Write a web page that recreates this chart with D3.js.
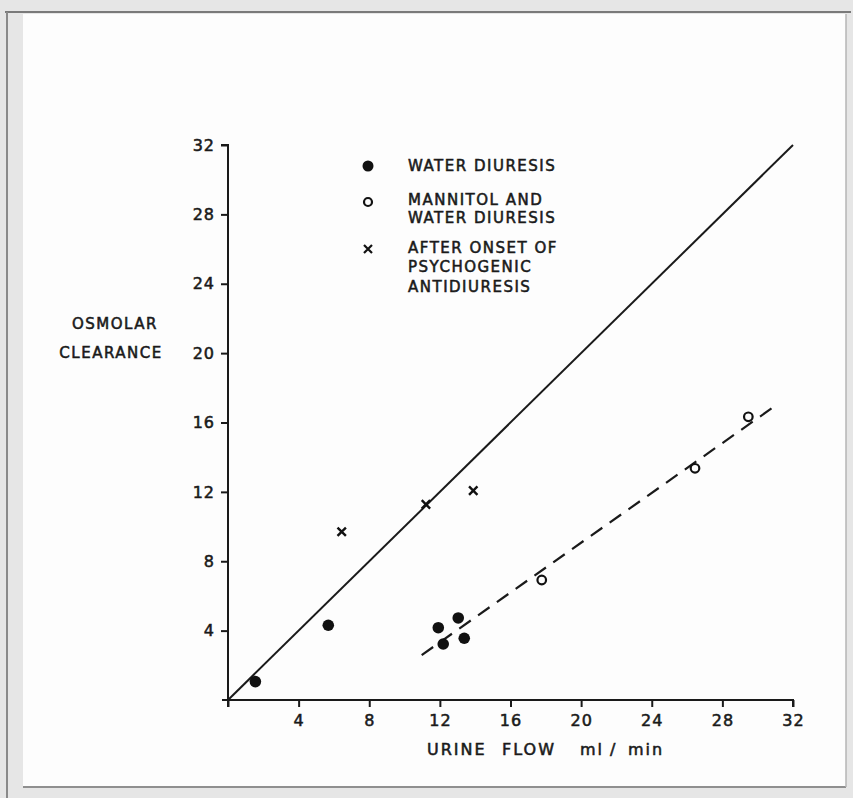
<!DOCTYPE html>
<html>
<head>
<meta charset="utf-8">
<script src="https://cdn.jsdelivr.net/npm/d3@7"></script>
<style>
  html, body { margin: 0; padding: 0; background: #e6e6e6; }
  svg { display: block; }
  text { font-family: "DejaVu Sans", sans-serif; fill: #1a1a1a; stroke: #1a1a1a; stroke-width: 0.55px; }
</style>
</head>
<body>
<script>
// Osmolar clearance vs urine flow (ml/min)
const xTicks = [4, 8, 12, 16, 20, 24, 28, 32];
const yTicks = [4, 8, 12, 16, 20, 24, 28, 32];

// Water diuresis (filled circles)
const waterFlow = [1.55, 5.68, 11.91, 12.19, 13.04, 13.38];
const waterClear = [1.06, 4.31, 4.17, 3.23, 4.73, 3.56];

// Mannitol and water diuresis (open circles)
const mannitolFlow = [17.77, 26.45, 29.47];
const mannitolClear = [6.92, 13.36, 16.33];

// After onset of psychogenic antidiuresis (crosses)
const antiFlow = [6.44, 11.21, 13.89];
const antiClear = [9.70, 11.28, 12.07];

// Line of identity and fitted dashed line endpoints
const identityX = [0, 32];
const identityY = [0, 32];
const fitX = [10.97, 30.88];
const fitY = [2.59, 16.88];

const legendLabels = [
  ["WATER DIURESIS"],
  ["MANNITOL AND", "WATER DIURESIS"],
  ["AFTER ONSET OF", "PSYCHOGENIC", "ANTIDIURESIS"]
];
const xTitleWords = ["URINE", "FLOW", "ml", "/", "min"];

const W = 853, H = 798;
const svg = d3.select("body").append("svg").attr("width", W).attr("height", H);

// paper panel and frame edges
svg.append("rect").attr("x", 0).attr("y", 0).attr("width", W).attr("height", H).attr("fill", "#e6e6e6");
svg.append("rect").attr("x", 23).attr("y", 14).attr("width", 823).attr("height", 773)
  .attr("fill", "#fdfdfd");
svg.append("line").attr("x1", 5).attr("x2", 851).attr("y1", 12).attr("y2", 12)
  .attr("stroke", "#7a7a7a").attr("stroke-width", 2);
svg.append("line").attr("x1", 7).attr("x2", 7).attr("y1", 12).attr("y2", 798)
  .attr("stroke", "#8a8a8a").attr("stroke-width", 2);
svg.append("line").attr("x1", 23).attr("x2", 846).attr("y1", 787).attr("y2", 787)
  .attr("stroke", "#8f8f8f").attr("stroke-width", 2);
svg.append("line").attr("x1", 846).attr("x2", 846).attr("y1", 14).attr("y2", 787)
  .attr("stroke", "#b5b5b5").attr("stroke-width", 1.5);

const x = d3.scaleLinear().domain([0, 32]).range([228, 793]);
const y = d3.scaleLinear().domain([0, 32]).range([700, 145]);

const g = svg.append("g");

// axes
const xAxis = d3.axisBottom(x).tickValues([0].concat(xTicks)).tickSize(7).tickPadding(8)
  .tickFormat(d => d === 0 ? "" : d);
const yAxis = d3.axisLeft(y).tickValues(yTicks).tickSize(7).tickPadding(6);

const gx = g.append("g").attr("transform", `translate(0,${y(0)})`).call(xAxis);
const gy = g.append("g").attr("transform", `translate(${x(0)},0)`).call(yAxis);
[gx, gy].forEach(a => {
  a.select(".domain").attr("stroke", "#1a1a1a").attr("stroke-width", 2);
  a.selectAll(".tick line").attr("stroke", "#1a1a1a").attr("stroke-width", 2);
  a.selectAll(".tick text").attr("font-size", 16).attr("letter-spacing", 1)
    .attr("font-family", "DejaVu Sans").attr("fill", "#1a1a1a");
});
gx.select(".domain").attr("d", `M${x(0) - 6},0H${x(32)}V7`);
gy.select(".domain").attr("d", `M-7,${y(32)}H0V${y(0) + 7}`);

// axis titles
g.append("text").attr("x", 115).attr("y", y(20) - 24)
  .attr("font-size", 15).attr("letter-spacing", 1.5).attr("text-anchor", "middle")
  .text("OSMOLAR");
g.append("text").attr("x", 111).attr("y", y(20) + 5)
  .attr("font-size", 15).attr("letter-spacing", 1.5).attr("text-anchor", "middle")
  .text("CLEARANCE");
const xTitleX = [427, 502, 580, 610, 628];
xTitleWords.forEach((w, i) => {
  g.append("text").attr("x", xTitleX[i]).attr("y", 755).attr("font-size", 16)
    .attr("letter-spacing", 2).text(w);
});

// identity line
g.append("line")
  .attr("x1", x(identityX[0])).attr("y1", y(identityY[0]))
  .attr("x2", x(identityX[1])).attr("y2", y(identityY[1]))
  .attr("stroke", "#1a1a1a").attr("stroke-width", 2);

// dashed regression line
g.append("line")
  .attr("x1", x(fitX[0])).attr("y1", y(fitY[0]))
  .attr("x2", x(fitX[1])).attr("y2", y(fitY[1]))
  .attr("stroke", "#1a1a1a").attr("stroke-width", 2.2).attr("stroke-dasharray", "14,9");

// markers
const water = waterFlow.map((v, i) => [v, waterClear[i]]);
const mannitol = mannitolFlow.map((v, i) => [v, mannitolClear[i]]);
const anti = antiFlow.map((v, i) => [v, antiClear[i]]);

g.selectAll(".water").data(water).join("circle").attr("class", "water")
  .attr("cx", d => x(d[0])).attr("cy", d => y(d[1])).attr("r", 5.8).attr("fill", "#111");

g.selectAll(".mannitol").data(mannitol).join("circle").attr("class", "mannitol")
  .attr("cx", d => x(d[0])).attr("cy", d => y(d[1])).attr("r", 4.3)
  .attr("fill", "none").attr("stroke", "#111").attr("stroke-width", 2.2);

const cross = (sel, s) => sel.attr("d", d => {
  const cx = x(d[0]), cy = y(d[1]);
  return `M${cx - s},${cy - s}L${cx + s},${cy + s}M${cx - s},${cy + s}L${cx + s},${cy - s}`;
}).attr("stroke", "#111").attr("stroke-width", 2.4).attr("fill", "none");
g.selectAll(".anti").data(anti).join("path").attr("class", "anti").call(cross, 4.2);

// legend
const legX = 368, textX = 408;
const legRows = [166, 202, 249];
const legBaselines = [[171], [205, 223], [253, 272, 292]];
g.append("circle").attr("cx", legX).attr("cy", legRows[0]).attr("r", 5.5).attr("fill", "#111");
g.append("circle").attr("cx", legX).attr("cy", legRows[1]).attr("r", 4)
  .attr("fill", "none").attr("stroke", "#111").attr("stroke-width", 2.2);
g.append("path").attr("d", `M${legX - 4},${legRows[2] - 4}L${legX + 4},${legRows[2] + 4}M${legX - 4},${legRows[2] + 4}L${legX + 4},${legRows[2] - 4}`)
  .attr("stroke", "#111").attr("stroke-width", 2.2);

legendLabels.forEach((lines, i) => {
  lines.forEach((ln, j) => {
    g.append("text").attr("x", textX).attr("y", legBaselines[i][j])
      .attr("font-size", 15).attr("letter-spacing", 1.5).text(ln);
  });
});
</script>
</body>
</html>
